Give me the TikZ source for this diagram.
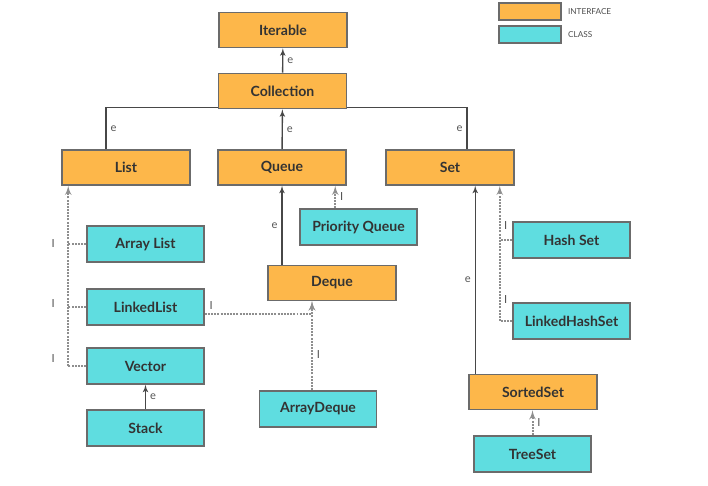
\documentclass[tikz,border=0pt]{standalone}
\usepackage{fontspec}
\setmainfont{Lato}
\usepackage{tikz}
\usetikzlibrary{arrows, calc}

\definecolor{ifacecol}{HTML}{FDB74A}
\definecolor{clscol}{HTML}{5FDDE0}
\definecolor{boxgray}{HTML}{6B6B6B}
\definecolor{linegray}{HTML}{474747}
\definecolor{dotgray}{HTML}{8E8E8E}
\definecolor{lblgray}{HTML}{555555}

\tikzset{
  box/.style={draw=boxgray, line width=1.3pt, text=black!80,
    font=\fontsize{12}{14}\selectfont\bfseries},
  iface/.style={box, fill=ifacecol, minimum width=3.84cm, minimum height=1.05cm},
  cls/.style={box, fill=clscol, minimum width=3.51cm, minimum height=1.08cm},
  ext/.style={->, draw=linegray, line width=1.2pt},
  impl/.style={->, draw=dotgray, densely dotted, line width=1.7pt},
  lbl/.style={font=\fontsize{9.5}{11}\selectfont, text=lblgray},
}

\begin{document}
\begin{tikzpicture}[>=latex', x=0.03cm, y=-0.03cm]
\useasboundingbox (0,0) rectangle (708,486);
% legend
\node[box, fill=ifacecol, minimum width=1.86cm, minimum height=0.51cm] at (530,11.5) (keyI) {};
\node[box, fill=clscol, minimum width=1.86cm, minimum height=0.51cm] at (530,34.5) (keyC) {};
\node[anchor=west, font=\fontsize{7}{8}\selectfont, text=black!70] at (564,11.5) (keyIt) {INTERFACE};
\node[anchor=west, font=\fontsize{7}{8}\selectfont, text=black!70] at (564,34.5) (keyCt) {CLASS};
% interfaces
\node[iface] at (283, 30)    (Iterable)   {Iterable};
\node[iface] at (282.5, 91)  (Collection) {Collection};
\node[iface] at (126, 167.5) (List)       {List};
\node[iface] at (282, 167.5) (Queue)      {Queue};
\node[iface] at (450, 167.5) (Set)        {Set};
\node[iface] at (332, 283)   (Deque)      {Deque};
\node[iface] at (533, 392)   (SortedSet)  {SortedSet};
% classes
\node[cls] at (145.5, 244) (ArrayList)     {Array List};
\node[cls] at (145.5, 307) (LinkedList)    {LinkedList};
\node[cls] at (145.5, 366) (Vector)        {Vector};
\node[cls] at (145.5, 428) (Stack)         {Stack};
\node[cls] at (358.5, 227) (PriorityQueue) {Priority Queue};
\node[cls] at (318, 409)   (ArrayDeque)    {ArrayDeque};
\node[cls] at (571.5, 240) (HashSet)       {Hash Set};
\node[cls] at (571.5, 321) (LinkedHashSet) {LinkedHashSet};
\node[cls] at (532.5, 454) (TreeSet)       {TreeSet};
% helper points
\coordinate (ltrunk) at ($(List.south west)+(7,0)$);
\coordinate (strunk) at ($(Set.south east)+(-15,0)$);
\coordinate (pqtop)  at ($(PriorityQueue.north west)+(36,0)$);
\coordinate (dqin)   at ($(Deque.south)+(-20,0)$);
\coordinate (sstop)  at ($(SortedSet.north west)+(7,0)$);
% extends
\path (Collection) edge[ext] node[lbl, right] {e} (Iterable);
\path (Queue) edge[ext] node[lbl, right] {e} (Collection);
\draw[ext, -] ($(List.north)+(-20,0)$) |- node[lbl, right, pos=.25] {e} ($(Collection.south west)+(0,-2)$);
\draw[ext, -] ($(Set.north)+(17,0)$) |- node[lbl, left, pos=.25] {e} ($(Collection.south east)+(0,-2)$);
\draw[ext] (Deque.north -| Queue.south) -- node[lbl, left] {e} (Queue.south);
\path (Stack) edge[ext] node[lbl, right] {e} (Vector);
\draw[ext] (sstop) -- node[lbl, left] {e} (Set.south -| sstop);
% implements
\draw[impl] (pqtop) -- node[lbl, right] {I} (Queue.south -| pqtop);
\draw[impl] (Vector.west -| ltrunk) -- (ltrunk);
\draw[impl, -] (ArrayList.west) -- (ArrayList.west -| ltrunk);
\draw[impl, -] (LinkedList.west) -- (LinkedList.west -| ltrunk);
\draw[impl, -] (Vector.west) -- (Vector.west -| ltrunk);
\node[lbl] at ($(ArrayList.west -| ltrunk)+(-15,0)$)  (lA) {I};
\node[lbl] at ($(LinkedList.west -| ltrunk)+(-15,-3)$) (lB) {I};
\node[lbl] at ($(Vector.west -| ltrunk)+(-15,-7)$)    (lC) {I};
\draw[impl] ($(LinkedList.east)+(0,7)$) -| node[lbl, above right, pos=0] {I} (dqin);
\draw[impl] (ArrayDeque.north -| dqin) -- node[lbl, right, pos=.4] {I} (dqin);
\draw[impl] (LinkedHashSet.west -| strunk) -- (strunk);
\draw[impl, -] (HashSet.west) -- (HashSet.west -| strunk);
\draw[impl, -] (LinkedHashSet.west) -- (LinkedHashSet.west -| strunk);
\node[lbl] at ($(HashSet.west -| strunk)+(6,-14)$)       (lD) {I};
\node[lbl] at ($(LinkedHashSet.west -| strunk)+(6,-21)$) (lE) {I};
\draw[impl] (TreeSet.north) -- node[lbl, right] {I} (TreeSet.north |- SortedSet.south);
\end{tikzpicture}
\end{document}
